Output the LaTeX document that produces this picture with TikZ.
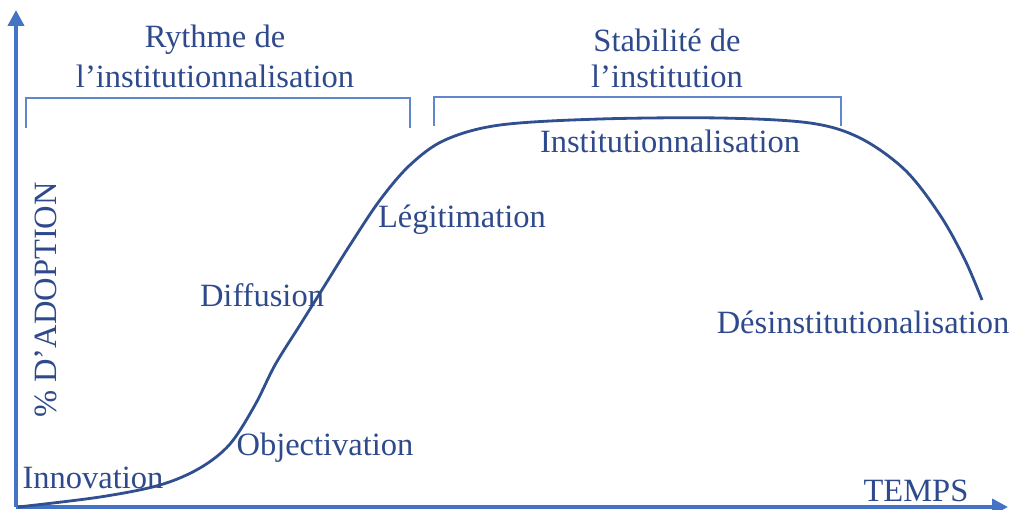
\documentclass[tikz,border=0pt]{standalone}
\usepackage{fontspec}
\setmainfont{Liberation Serif}
\usetikzlibrary{arrows.meta}
\definecolor{axisblue}{HTML}{4472C4}
\definecolor{curveblue}{HTML}{2F4F8F}
\definecolor{textblue}{HTML}{2F4A8C}
\begin{document}
\begin{tikzpicture}[x=0.02cm,y=-0.02cm,
  lbl/.style={text=textblue,font=\fontsize{18.5}{22}\selectfont,inner sep=0pt},
  axis/.style={draw=axisblue,line width=2.2pt,-{Triangle[length=9pt,width=9pt]}},
  bracket/.style={draw=axisblue!85,line width=0.9pt},
  curve/.style={draw=curveblue,line width=1.6pt}]
\useasboundingbox (0,0) rectangle (1011,510);
\coordinate (O) at (16,507);
\coordinate (Ytop) at (16,10);
\coordinate (Xend) at (1008,507);
\draw[axis] (O) -- (Ytop);
\draw[axis] (O) -- (Xend);
% brackets
\draw[bracket] (26,128) -- (26,98) -- (410,98) -- (410,128);
\draw[bracket] (434,126) -- (434,97) -- (841,97) -- (841,126);
% curve
\draw[curve] plot[smooth,tension=0.55] coordinates {(18,507) (100,497) (160,485) (200,468) (230,444) (255,405) (275,365) (300,325) (325,285) (350,245) (380,200) (410,165) (445,140) (500,125) (600,119) (720,118) (810,123) (860,138) (905,170) (940,215) (965,260) (982,300)};
% labels
\node[lbl] (r1) at (215,40) {Rythme de};
\node[lbl] (r2) at (215,76) {l’institutionnalisation};
\node[lbl] (s1) at (667,40) {Stabilité de};
\node[lbl] (s2) at (667,76) {l’institution};
\node[lbl] (inst) at (670,141) {Institutionnalisation};
\node[lbl] (leg) at (462,220) {Légitimation};
\node[lbl] (dif) at (262,295) {Diffusion};
\node[lbl] (des) at (863,322) {Désinstitutionalisation};
\node[lbl] (obj) at (325,448) {Objectivation};
\node[lbl] (inn) at (93,478) {Innovation};
\node[lbl] (temps) at (916,491) {TEMPS};
\node[lbl,rotate=90] (adop) at (46,300) {\% D’ADOPTION};
\end{tikzpicture}
\end{document}
